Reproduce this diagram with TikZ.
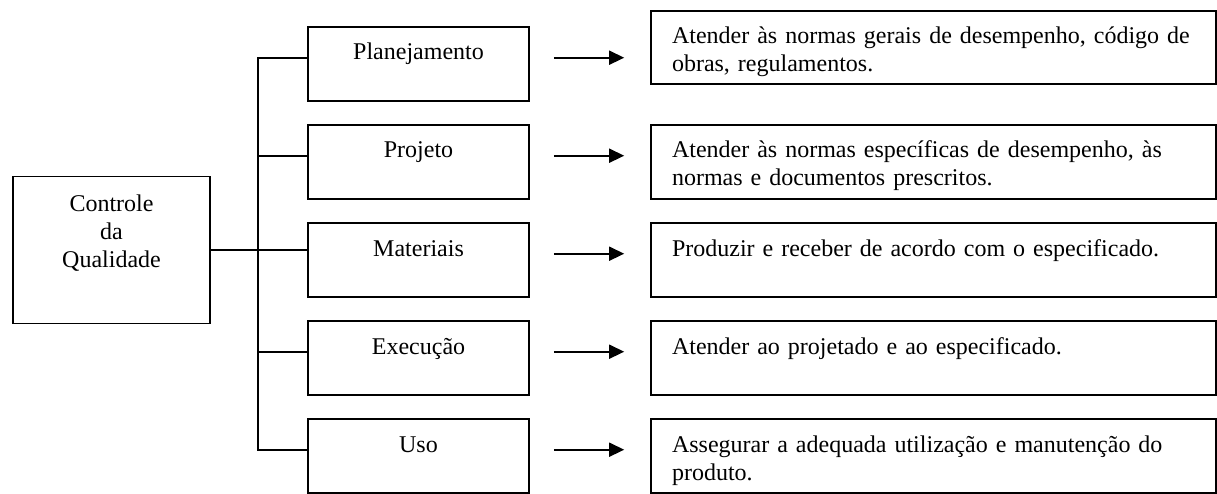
\documentclass[tikz,border=0pt]{standalone}
\usepackage{fontspec}
\setmainfont{Liberation Serif}
\usetikzlibrary{arrows.meta}
\usetikzlibrary{calc}

\tikzset{
  caixa/.style={draw,line width=1.6pt,rectangle,inner xsep=0pt,inner ysep=0pt,
    text width=221pt,align=center,text height=33pt,text depth=41pt},
  principal/.style={caixa,text width=197pt,text height=35pt,text depth=112pt},
  requisito/.style={caixa,text width=523pt,inner xsep=21pt,align=left},
  ligacao/.style={line width=1.6pt},
  seta/.style={line width=1.6pt,-{Triangle[length=15pt,width=14pt]},
    shorten <=24pt,shorten >=26pt}
}

\begin{document}
\begin{tikzpicture}[x=1pt,y=-1pt,font=\fontsize{24}{28}\selectfont]
\def\passo{98}
\useasboundingbox (0,0) rectangle (1217,494);

\node[principal] (cq) at (111.5,250) {Controle\\da\\Qualidade};

\node[caixa] (plan) at (418.5,64) {Planejamento};
\node[caixa] (proj) at (418.5,64+\passo) {Projeto};
\node[caixa] (mat) at (418.5,64+2*\passo) {Materiais};
\node[caixa] (exe) at (418.5,64+3*\passo) {Execução};
\node[caixa] (uso) at (418.5,64+4*\passo) {Uso};

\node[requisito,text depth=40pt] (r1) at (933.5,47.5)
{Atender às normas gerais de desempenho, código de obras, regulamentos.};
\node[requisito] (r2) at (933.5,64+\passo)
{Atender às normas específicas de desempenho, às normas e documentos prescritos.};
\node[requisito] (r3) at (933.5,64+2*\passo)
{Produzir e receber de acordo com o especificado.};
\node[requisito] (r4) at (933.5,64+3*\passo)
{Atender ao projetado e ao especificado.};
\node[requisito] (r5) at (933.5,64+4*\passo)
{Assegurar a adequada utilização e manutenção do produto.};

% barramento vertical
\coordinate (bus) at (258,0);
\draw[ligacao] (cq.east) -- (cq.east -| mat.west);
\draw[ligacao] (plan.mid west) -- (plan.mid west -| bus) |- (uso.mid west);
\draw[ligacao] (proj.mid west -| bus) -- (proj.mid west);
\draw[ligacao] (exe.mid west -| bus) -- (exe.mid west);

\draw[seta] (plan.mid east) -- (plan.mid east -| r1.west);
\draw[seta] (proj.mid east) -- (proj.mid east -| r2.west);
\draw[seta] (mat.mid east) -- (mat.mid east -| r3.west);
\draw[seta] (exe.mid east) -- (exe.mid east -| r4.west);
\draw[seta] (uso.mid east) -- (uso.mid east -| r5.west);
\end{tikzpicture}
\end{document}
